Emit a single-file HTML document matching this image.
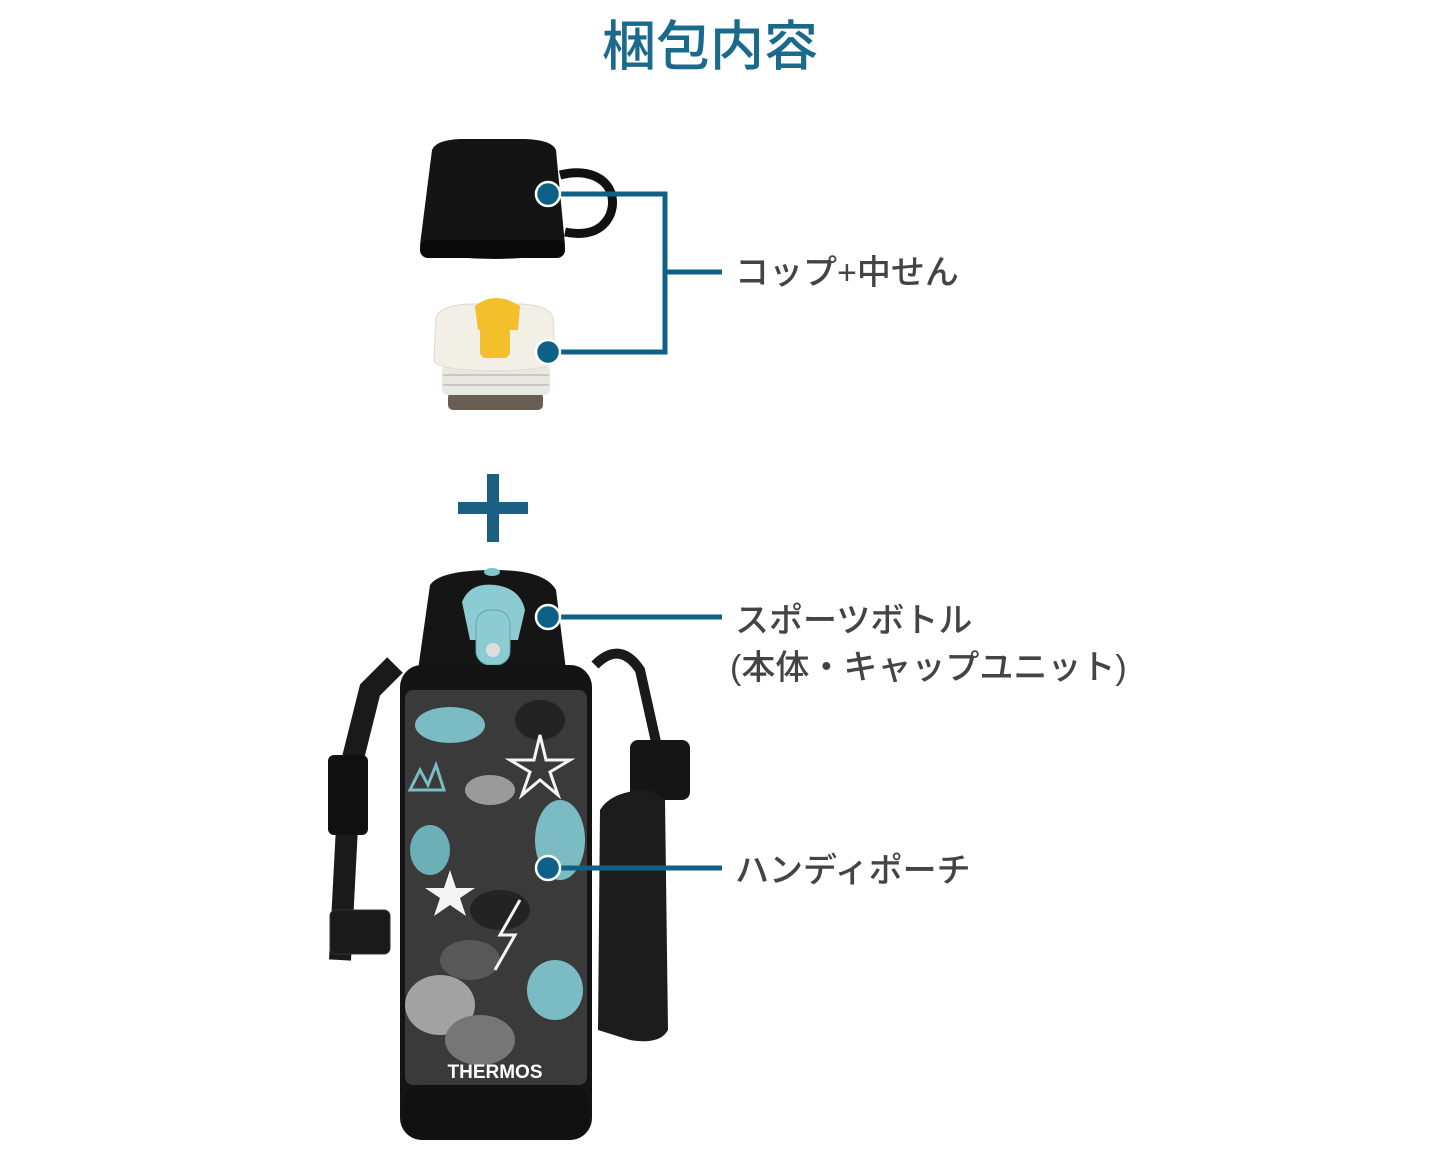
<!DOCTYPE html>
<html><head><meta charset="utf-8"><style>
html,body{margin:0;padding:0;background:#fff;}
svg{display:block}
</style></head><body>
<svg width="1430" height="1168" viewBox="0 0 1430 1168" xmlns="http://www.w3.org/2000/svg">
<rect width="1430" height="1168" fill="#fff"/>
<text x="710" y="65" text-anchor="middle" font-family="Liberation Sans, Noto Sans CJK JP, sans-serif" font-size="54" font-weight="500" fill="#1b6a8c">梱包内容</text>

<!-- cup -->
<path d="M560 175 C600 165 620 190 610 215 C602 232 585 236 565 232" fill="none" stroke="#111" stroke-width="9"/>
<path d="M432 150 Q436 140 460 139 L525 139 Q552 140 556 150 L565 245 Q565 258 495 259 Q422 258 420 245 Z" fill="#141414"/>
<rect x="420" y="240" width="145" height="18" rx="8" fill="#0a0a0a"/>

<!-- stopper -->
<rect x="448" y="392" width="95" height="18" rx="5" fill="#6a5e52"/>
<rect x="442" y="365" width="108" height="30" rx="6" fill="#e9e8e2"/>
<line x1="443" y1="375" x2="549" y2="375" stroke="#c9c8c0" stroke-width="2"/>
<line x1="443" y1="385" x2="549" y2="385" stroke="#c9c8c0" stroke-width="2"/>
<path d="M436 318 Q440 305 470 304 L520 304 Q550 305 553 318 L555 360 Q555 370 495 371 Q434 370 434 360 Z" fill="#f1efe6" stroke="#dcdad0"/>
<path d="M475 306 Q495 290 520 306 L518 330 L478 330 Z" fill="#f3c02c"/>
<rect x="480" y="318" width="30" height="40" rx="6" fill="#f3c02c"/>

<!-- plus -->
<rect x="458" y="502" width="70" height="12" fill="#1b5f82"/>
<rect x="487" y="474" width="12" height="68" fill="#1b5f82"/>

<!-- straps -->
<path d="M395 665 L370 690 L350 770 L340 960" fill="none" stroke="#1a1a1a" stroke-width="22"/>
<rect x="328" y="755" width="40" height="80" rx="6" fill="#111"/>
<rect x="330" y="910" width="60" height="44" rx="6" fill="#1a1a1a" stroke="#333"/>
<path d="M595 665 Q620 640 640 670 L660 760" fill="none" stroke="#1a1a1a" stroke-width="10"/>
<rect x="630" y="740" width="60" height="60" rx="8" fill="#151515"/>
<path d="M600 810 Q612 790 650 790 L665 800 L668 1030 Q660 1045 630 1040 L598 1030 Z" fill="#1c1c1c"/>

<!-- bottle cap -->
<path d="M430 585 Q440 570 495 570 Q545 570 556 590 L566 670 L418 670 Z" fill="#151515"/>
<ellipse cx="492" cy="572" rx="8" ry="4" fill="#7fc4cc"/>
<path d="M462 602 Q470 582 495 585 Q520 588 525 610 L518 640 L470 640 Z" fill="#8ccbd2"/>
<rect x="476" y="610" width="34" height="55" rx="14" fill="#8ccbd2" stroke="#5fa6ae"/>
<circle cx="493" cy="650" r="7" fill="#ddd"/>

<!-- pouch -->
<rect x="400" y="665" width="192" height="475" rx="22" fill="#141414"/>
<rect x="405" y="690" width="182" height="395" rx="8" fill="#3a3a3a"/>
<g opacity="0.95">
<ellipse cx="450" cy="725" rx="35" ry="18" fill="#7fc4cc"/>
<ellipse cx="560" cy="840" rx="25" ry="40" fill="#7fc4cc"/>
<ellipse cx="430" cy="850" rx="20" ry="25" fill="#6fb6be"/>
<ellipse cx="555" cy="990" rx="28" ry="30" fill="#7fc4cc"/>
<ellipse cx="440" cy="1005" rx="35" ry="30" fill="#a8a8a8"/>
<ellipse cx="490" cy="790" rx="25" ry="15" fill="#a0a0a0"/>
<ellipse cx="500" cy="910" rx="30" ry="20" fill="#222"/>
<ellipse cx="480" cy="1040" rx="35" ry="25" fill="#7a7a7a"/>
<ellipse cx="540" cy="720" rx="25" ry="20" fill="#222"/>
<ellipse cx="470" cy="960" rx="30" ry="20" fill="#5a5a5a"/>
<path d="M540 735 L546 760 L570 760 L550 772 L558 795 L540 780 L522 795 L530 772 L510 760 L534 760 Z" fill="none" stroke="#fff" stroke-width="3"/>
<path d="M450 870 L456 888 L475 888 L460 898 L466 916 L450 905 L434 916 L440 898 L425 888 L444 888 Z" fill="#fff"/>
<path d="M520 900 L500 935 L515 935 L495 970" fill="none" stroke="#fff" stroke-width="3"/>
<path d="M410 790 L420 770 L428 785 L436 765 L444 790 Z" fill="none" stroke="#7fc4cc" stroke-width="3"/>
</g>
<rect x="403" y="1085" width="186" height="55" rx="20" fill="#111"/>
<text x="495" y="1078" text-anchor="middle" font-family="Liberation Sans, sans-serif" font-size="19" font-weight="bold" fill="#fff">THERMOS</text>

<!-- connectors -->
<g stroke="#0e6186" stroke-width="5" fill="none">
<polyline points="548,194 665,194 665,352 548,352"/>
<line x1="665" y1="272" x2="722" y2="272"/>
<line x1="548" y1="617" x2="722" y2="617"/>
<line x1="548" y1="868" x2="722" y2="868"/>
</g>
<g fill="#0e6186" stroke="#fff" stroke-width="2.5">
<circle cx="548" cy="194" r="12"/>
<circle cx="548" cy="352" r="12"/>
<circle cx="548" cy="617" r="12"/>
<circle cx="548" cy="868" r="12"/>
</g>

<g font-family="Liberation Sans, Noto Sans CJK JP, sans-serif" font-size="34" font-weight="500" fill="#444">
<text x="735" y="284">コップ+中せん</text>
<text x="735" y="632">スポーツボトル</text>
<text x="730" y="679">(本体・キャップユニット)</text>
<text x="735" y="882">ハンディポーチ</text>
</g>
</svg>
</body></html>
